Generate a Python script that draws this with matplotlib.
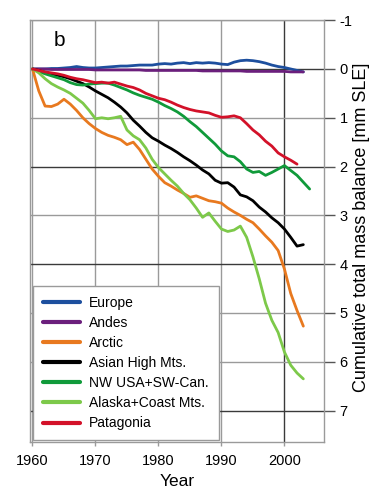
import numpy as np
import matplotlib
matplotlib.use('Agg')
import matplotlib.pyplot as plt

plt.rcParams['font.family'] = ['Liberation Sans', 'DejaVu Sans']
plt.rcParams['axes.unicode_minus'] = False

# DATA (cumulative mass balance, mm SLE, positive = loss)
# -----------------------------------------------------------------------------------------------
years_03 = list(range(1960, 2004))
years_02 = list(range(1960, 2003))
years_04 = list(range(1960, 2005))

europe = [0, 0, 0, -0.01, -0.01, -0.02, -0.03, -0.05, -0.03, -0.02,
          -0.02, -0.03, -0.04, -0.05, -0.06, -0.06, -0.07, -0.08, -0.08, -0.08,
          -0.1, -0.11, -0.1, -0.12, -0.13, -0.11, -0.13, -0.12, -0.13, -0.12,
          -0.1, -0.09, -0.14, -0.17, -0.18, -0.17, -0.15, -0.12, -0.08, -0.05,
          -0.03, 0.0, 0.03, 0.06]

andes = [0, 0.0, 0.0, 0.01, 0.01, 0.01, 0.01, 0.01, 0.01, 0.01,
         0.02, 0.02, 0.02, 0.02, 0.02, 0.02, 0.02, 0.02, 0.03, 0.03,
         0.03, 0.03, 0.03, 0.03, 0.03, 0.03, 0.03, 0.04, 0.04, 0.04,
         0.04, 0.04, 0.04, 0.04, 0.05, 0.05, 0.05, 0.05, 0.05, 0.05,
         0.05, 0.06, 0.06, 0.06]

arctic = [0, 0.45, 0.76, 0.77, 0.72, 0.62, 0.72, 0.85, 1.0, 1.12,
          1.22, 1.3, 1.36, 1.4, 1.45, 1.55, 1.5, 1.65, 1.85, 2.05,
          2.2, 2.33, 2.4, 2.48, 2.55, 2.63, 2.6, 2.65, 2.7, 2.72,
          2.75, 2.85, 2.93, 3.0, 3.08, 3.15, 3.28, 3.42, 3.55, 3.72,
          4.1, 4.6, 4.95, 5.27]

asian = [0, 0.03, 0.07, 0.1, 0.13, 0.16, 0.2, 0.25, 0.3, 0.37,
         0.45, 0.52, 0.59, 0.68, 0.78, 0.9, 1.05, 1.17, 1.3, 1.41,
         1.48, 1.56, 1.63, 1.71, 1.8, 1.88, 1.97, 2.07, 2.15, 2.28,
         2.34, 2.33, 2.42, 2.58, 2.62, 2.7, 2.83, 2.93, 3.05, 3.15,
         3.28, 3.45, 3.63, 3.6]

nw_usa = [0, 0.05, 0.1, 0.14, 0.18, 0.22, 0.28, 0.32, 0.33, 0.31,
          0.3, 0.29, 0.29, 0.33, 0.38, 0.43, 0.49, 0.54, 0.58, 0.62,
          0.68, 0.75, 0.81, 0.88, 0.97, 1.08, 1.18, 1.3, 1.42, 1.54,
          1.68, 1.78, 1.8, 1.9, 2.05, 2.12, 2.1, 2.18, 2.12, 2.05,
          1.98, 2.08, 2.18, 2.32, 2.46]

alaska = [0, 0.08, 0.2, 0.3, 0.37, 0.43, 0.5, 0.6, 0.7, 0.85,
          1.02, 1.0, 1.02, 1.0, 0.97, 1.25, 1.37, 1.45, 1.62, 1.85,
          2.02, 2.15, 2.28, 2.4, 2.55, 2.68, 2.85, 3.04, 2.95, 3.12,
          3.28, 3.33, 3.3, 3.22, 3.45, 3.85, 4.3, 4.8, 5.15, 5.4,
          5.8, 6.07, 6.23, 6.35]

patagonia = [0, 0.03, 0.06, 0.08, 0.1, 0.13, 0.17, 0.2, 0.22, 0.25,
             0.28, 0.27, 0.29, 0.27, 0.31, 0.35, 0.38, 0.43, 0.5, 0.55,
             0.6, 0.63, 0.68, 0.74, 0.79, 0.83, 0.86, 0.88, 0.9, 0.95,
             0.99, 0.98, 0.96, 1.0, 1.12, 1.25, 1.35, 1.48, 1.58, 1.72,
             1.8, 1.87, 1.95]

series = [
    (years_03, europe, 'Europe', '#1d4f9e'),
    (years_03, andes, 'Andes', '#6b1f7c'),
    (years_03, arctic, 'Arctic', '#e8791f'),
    (years_03, asian, 'Asian High Mts.', '#000000'),
    (years_04, nw_usa, 'NW USA+SW-Can.', '#109a3a'),
    (years_03, alaska, 'Alaska+Coast Mts.', '#7dc94a'),
    (years_02, patagonia, 'Patagonia', '#d31129'),
]

y_ticks = [-1, 0, 1, 2, 3, 4, 5, 6, 7]
x_ticks = [1960, 1970, 1980, 1990, 2000]

# PLOT
# -----------------------------------------------------------------------------------------------
fig = plt.figure(figsize=(3.7, 4.92), dpi=100)
ax = fig.add_axes([0.081, 0.102, 0.795, 0.857])

for x, y, label, color in series:
    ax.plot(x, y, color=color, lw=2.0, label=label, solid_capstyle='round', zorder=3)

ax.set_xlim(1959.6, 2006.3)
ax.set_ylim(7.64, -1)
ax.set_xticks(x_ticks)
ax.set_yticks(y_ticks)
ax.yaxis.tick_right()

ax.grid(True, color='#9a9a9a', lw=1.0, zorder=0)
dark_y = [0, 2, 4, 7]
for val, line in zip(y_ticks, ax.get_ygridlines()):
    if val in dark_y:
        line.set_color('#3a3a3a')
for val, line in zip(x_ticks, ax.get_xgridlines()):
    if val == 2000:
        line.set_color('#3a3a3a')

for sp in ax.spines.values():
    sp.set_color('#9a9a9a')
    sp.set_linewidth(1.0)

ax.tick_params(axis='y', direction='out', length=8, width=1.0, color='#555555',
               labelsize=10.5, pad=3)
ax.tick_params(axis='x', direction='out', length=3, width=1.0, color='#9a9a9a',
               labelsize=10.5, pad=6)

ax.set_xlabel('Year', fontsize=12.5, labelpad=4)
fig.text(361 / 370, 0.5376, 'Cumulative total mass balance [mm SLE]', rotation=90,
         ha='center', va='center', fontsize=13)

ax.text(0.08, 0.951, 'b', transform=ax.transAxes, fontsize=15, ha='left', va='center')

leg = ax.legend(loc='lower left', bbox_to_anchor=(0.01, 0.004), fontsize=10,
                frameon=True, fancybox=False, edgecolor='#9a9a9a', framealpha=1,
                handlelength=2.7, handletextpad=0.65, labelspacing=0.44,
                borderpad=0.7, borderaxespad=0)
leg.get_frame().set_linewidth(1.0)
for line in leg.get_lines():
    line.set_linewidth(3.0)

fig.savefig('out.png', dpi=100)
